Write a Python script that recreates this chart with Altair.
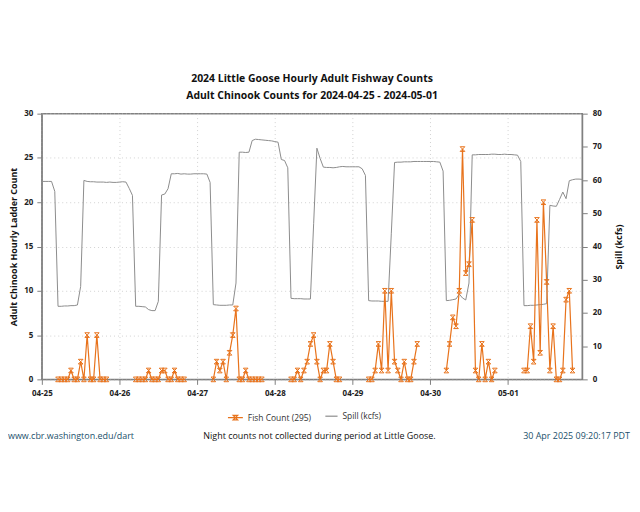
import altair as alt
import pandas as pd

TITLE = ["2024 Little Goose Hourly Adult Fishway Counts",
         "Adult Chinook Counts for 2024-04-25 - 2024-05-01"]
Y_LEFT_TITLE = "Adult Chinook Hourly Ladder Count"
Y_RIGHT_TITLE = "Spill (kcfs)"
FISH_LABEL = "Fish Count (295)"
SPILL_LABEL = "Spill (kcfs)"
FOOT_LEFT = "www.cbr.washington.edu/dart"
FOOT_MID = "Night counts not collected during period at Little Goose."
FOOT_RIGHT = "30 Apr 2025 09:20:17 PDT"

days = ["2024-04-25", "2024-04-26", "2024-04-27", "2024-04-28",
        "2024-04-29", "2024-04-30", "2024-05-01"]
fish_hours = list(range(5, 21))

fish_0425 = [0, 0, 0, 0, 1, 0, 0, 2, 0, 5, 0, 0, 5, 0, 0, 0]
fish_0426 = [0, 0, 0, 0, 1, 0, 0, 0, 1, 1, 0, 0, 1, 0, 0, 0]
fish_0427 = [0, 2, 1, 2, 0, 3, 5, 8, 0, 0, 1, 0, 0, 0, 0, 0]
fish_0428 = [0, 0, 1, 0, 1, 2, 4, 5, 2, 0, 1, 1, 4, 2, 0, 0]
fish_0429 = [0, 0, 1, 4, 1, 10, 1, 10, 2, 1, 0, 2, 0, 0, 2, 4]
fish_0430 = [1, 4, 7, 6, 10, 26, 12, 13, 18, 1, 0, 4, 0, 2, 0, 1]
fish_0501 = [1, 1, 6, 2, 18, 3, 20, 11, 1, 6, 0, 0, 1, 9, 10, 1]

spill_0425 = [59.6, 59.6, 59.6, 59.6, 56.6, 22.0, 22.0, 22.1, 22.1, 22.2, 22.2, 22.4,
              28.0, 59.9, 59.6, 59.5, 59.5, 59.4, 59.4, 59.4, 59.3, 59.4, 59.3, 59.3]
spill_0426 = [59.4, 59.5, 59.4, 57.5, 55.4, 22.0, 22.0, 21.9, 21.8, 21.0, 20.7, 20.7,
              23.5, 55.5, 55.8, 57.4, 61.9, 61.9, 62.0, 61.8, 61.9, 61.8, 61.8, 61.9]
spill_0427 = [61.9, 61.9, 61.9, 61.8, 59.3, 22.5, 22.4, 22.3, 22.3, 22.3, 22.4, 22.4,
              29.0, 68.4, 68.4, 68.3, 68.4, 71.9, 72.3, 72.2, 72.1, 72.0, 71.9, 71.8]
spill_0428 = [71.6, 71.4, 66.2, 65.9, 63.7, 24.4, 24.3, 24.3, 24.3, 24.2, 24.2, 24.2,
              47.0, 69.6, 66.5, 63.9, 63.8, 63.8, 63.7, 63.8, 64.0, 64.1, 64.0, 64.0]
spill_0429 = [64.0, 64.0, 64.0, 63.4, 61.4, 23.7, 23.6, 23.6, 23.6, 23.5, 23.5, 23.5,
              44.0, 65.3, 65.4, 65.4, 65.5, 65.5, 65.5, 65.6, 65.6, 65.6, 65.6, 65.6]
spill_0430 = [65.6, 65.6, 65.5, 65.4, 62.7, 23.7, 23.8, 24.0, 24.2, 25.7, 24.5, 23.9,
              29.0, 67.6, 67.6, 67.7, 67.7, 67.7, 67.7, 67.8, 67.8, 67.7, 67.7, 67.8]
spill_0501 = [67.7, 67.7, 67.6, 67.5, 65.6, 22.2, 22.2, 22.3, 22.3, 22.4, 22.5, 22.6,
              22.8, 52.4, 52.2, 52.1, 54.2, 56.4, 54.4, 59.8, 60.1, 60.3, 60.3, 60.2]

fish_series = [fish_0425, fish_0426, fish_0427, fish_0428, fish_0429, fish_0430, fish_0501]
spill_series = [spill_0425, spill_0426, spill_0427, spill_0428, spill_0429, spill_0430, spill_0501]

fish_rows = []
for d, vals in zip(days, fish_series):
    for h, v in zip(fish_hours, vals):
        fish_rows.append({"time": f"{d}T{h:02d}:00:00", "day": d, "count": v, "series": FISH_LABEL})
fish_df = pd.DataFrame(fish_rows)

spill_rows = []
for d, vals in zip(days, spill_series):
    for h, v in enumerate(vals):
        spill_rows.append({"time": f"{d}T{h:02d}:00:00", "spill": v, "series": SPILL_LABEL})
spill_df = pd.DataFrame(spill_rows)

FISH_COLOR = "#e8731c"
SPILL_COLOR = "#8c8c8c"
AXIS_COLOR = "#808080"
GRID_COLOR = "#d2d2d2"
FOOT_COLOR = "#21506b"

W, H = 543, 267

day_ticks = [alt.DateTime(year=2024, month=4, date=d) for d in range(25, 31)] + \
            [alt.DateTime(year=2024, month=5, date=1)]
x_domain = [alt.DateTime(year=2024, month=4, date=25, hours=0),
            alt.DateTime(year=2024, month=5, date=1, hours=23)]

x_enc = alt.X(
    "time:T",
    scale=alt.Scale(domain=x_domain, nice=False),
    axis=alt.Axis(values=day_ticks, format="%m-%d", title=None, grid=True,
                  gridDash=[1, 3], gridColor=GRID_COLOR, labelFontWeight="bold",
                  labelFontSize=8, tickSize=5, labelPadding=5, labelFlush=False,
                  domainColor=AXIS_COLOR, tickColor=AXIS_COLOR, labelColor="#222"),
)

HOURGLASS = "M-1,-1L1,-1L-1,1L1,1Z"
LEG_FISH = "M-1,0L1,0M-0.3,-0.3L0.3,-0.3L-0.3,0.3L0.3,0.3Z"

spill_chart = alt.Chart(spill_df).mark_line(strokeWidth=1).encode(
    x=x_enc,
    y=alt.Y("spill:Q", scale=alt.Scale(domain=[0, 80], nice=False),
            axis=alt.Axis(orient="right", values=list(range(0, 81, 10)), title=Y_RIGHT_TITLE,
                          grid=False, labelFontWeight="bold", labelFontSize=8, tickSize=5,
                          labelPadding=5, domainColor=AXIS_COLOR, tickColor=AXIS_COLOR,
                          titleFontSize=9, titleFontWeight="bold", titleAngle=270,
                          titleX=36, titleY=H / 2, titleAlign="center", titleBaseline="middle",
                          labelColor="#222", titleColor="#111")),
    color=alt.Color("series:N", scale=alt.Scale(domain=[SPILL_LABEL], range=[SPILL_COLOR]),
                    legend=alt.Legend(orient="none", legendX=284, legendY=297, title=None,
                                      symbolType="stroke", symbolSize=150, symbolStrokeWidth=1.2,
                                      labelFontSize=8.5, labelColor="#333", labelOffset=4)),
)

fish_chart = alt.Chart(fish_df).mark_line(
    strokeWidth=1.2,
    point=alt.OverlayMarkDef(shape=HOURGLASS, filled=False, size=22, strokeWidth=1),
).encode(
    x=x_enc,
    y=alt.Y("count:Q", scale=alt.Scale(domain=[0, 30], nice=False),
            axis=alt.Axis(orient="left", values=list(range(0, 31, 5)), title=Y_LEFT_TITLE,
                          grid=True, gridDash=[1, 3], gridColor=GRID_COLOR,
                          labelFontWeight="bold", labelFontSize=8, tickSize=5, labelPadding=4,
                          domainColor=AXIS_COLOR, tickColor=AXIS_COLOR,
                          titleFontSize=9, titleFontWeight="bold", titleAngle=270,
                          titleX=-28, titleY=H / 2, titleAlign="center", titleBaseline="middle",
                          labelColor="#222", titleColor="#111")),
    detail="day:N",
    color=alt.Color("series:N", scale=alt.Scale(domain=[FISH_LABEL], range=[FISH_COLOR]),
                    legend=alt.Legend(orient="none", legendX=186, legendY=297, title=None,
                                      symbolType=LEG_FISH, symbolSize=225, symbolStrokeWidth=1.2,
                                      symbolFillColor="transparent",
                                      labelFontSize=8.5, labelColor="#333", labelOffset=4)),
)

foot_left = alt.Chart(pd.DataFrame({"t": [FOOT_LEFT]})).mark_text(
    align="left", baseline="middle", fontSize=9, color=FOOT_COLOR
).encode(x=alt.value(-34), y=alt.value(324), text="t:N")
foot_mid = alt.Chart(pd.DataFrame({"t": [FOOT_MID]})).mark_text(
    align="center", baseline="middle", fontSize=9, color="#111"
).encode(x=alt.value(279), y=alt.value(324), text="t:N")
foot_right = alt.Chart(pd.DataFrame({"t": [FOOT_RIGHT]})).mark_text(
    align="right", baseline="middle", fontSize=9, color=FOOT_COLOR
).encode(x=alt.value(591), y=alt.value(324), text="t:N")

chart = alt.layer(spill_chart, fish_chart, foot_left, foot_mid, foot_right).resolve_scale(
    y="independent", color="independent"
).resolve_legend(color="independent").properties(
    width=W, height=H,
    autosize=alt.AutoSizeParams(type="none"),
    padding={"left": 34, "top": 105, "right": 50, "bottom": 110},
    title=alt.Title(text=TITLE, fontSize=10.5, fontWeight="bold", anchor="middle",
                    offset=8, lineHeight=17, color="#111"),
).configure(font="Open Sans").configure_view(stroke=AXIS_COLOR, strokeWidth=1.5)

chart.save("out.html", embed_options={"renderer": "svg", "actions": False})
